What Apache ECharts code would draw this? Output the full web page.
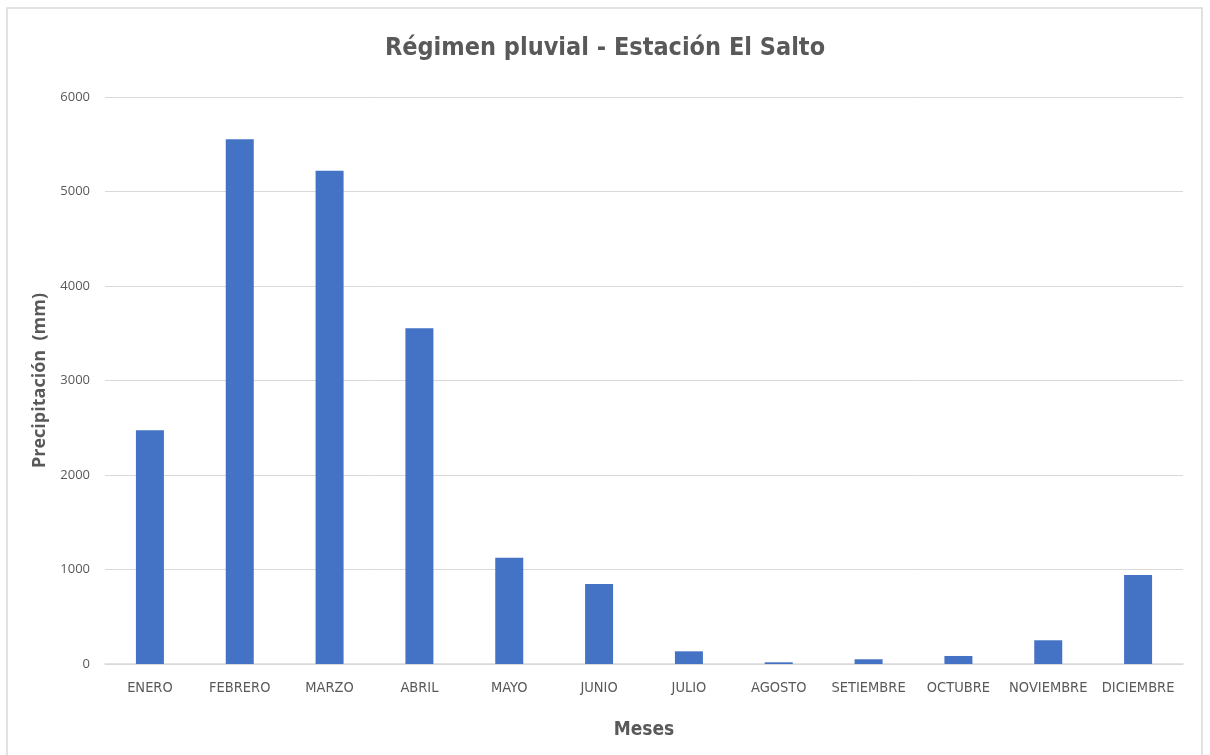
<!DOCTYPE html>
<html>
<head>
<meta charset="utf-8">
<script src="https://cdn.jsdelivr.net/npm/echarts@6/dist/echarts.min.js"></script>
<style>
  body { margin: 0; background: #fff; }
  #chart { width: 1210px; height: 755px; }
</style>
</head>
<body>
<div id="chart"></div>
<script>
// datos
const meses = ['ENERO', 'FEBRERO', 'MARZO', 'ABRIL', 'MAYO', 'JUNIO', 'JULIO',
  'AGOSTO', 'SETIEMBRE', 'OCTUBRE', 'NOVIEMBRE', 'DICIEMBRE'];
const precipitacion = [2473, 5552, 5220, 3552, 1125, 847, 134, 18, 50, 85, 251, 942];
const yMin = 0;
const yMax = 6000;
const yStep = 1000;

const narrow = '"DejaVu Sans Condensed", "Liberation Sans Narrow", sans-serif';

const chart = echarts.init(document.getElementById('chart'));

chart.setOption({
  backgroundColor: '#fff',
  animation: false,
  graphic: [{
    type: 'rect',
    shape: { x: 7, y: 8, width: 1195, height: 770 },
    style: { fill: 'none', stroke: '#d9d9d9', lineWidth: 1.5 },
    silent: true
  }],
  title: {
    text: 'Régimen pluvial - Estación El Salto',
    left: 'center',
    top: 31,
    textStyle: {
      fontFamily: narrow,
      fontSize: 25,
      fontWeight: 'bold',
      color: '#595959'
    }
  },
  grid: { left: 105, right: 27, top: 97, bottom: 91 },
  xAxis: {
    type: 'category',
    data: meses,
    name: 'Meses',
    nameLocation: 'middle',
    nameGap: 57,
    nameTextStyle: {
      fontFamily: narrow,
      fontSize: 19,
      fontWeight: 'bold',
      color: '#595959'
    },
    axisLine: { lineStyle: { color: '#d9d9d9', width: 1.5 } },
    axisTick: { show: false },
    axisLabel: {
      margin: 17,
      interval: 0,
      fontFamily: narrow,
      fontSize: 14.5,
      color: '#595959'
    }
  },
  yAxis: {
    type: 'value',
    min: yMin,
    max: yMax,
    interval: yStep,
    name: 'Precipitación  (mm)',
    nameLocation: 'middle',
    nameGap: 56,
    nameTextStyle: {
      fontFamily: 'Open Sans',
      fontSize: 18,
      fontWeight: 'bold',
      color: '#595959',
      padding: [0, 0, 0, 0]
    },
    axisLine: { show: false },
    axisTick: { show: false },
    axisLabel: {
      margin: 15,
      fontFamily: 'Open Sans',
      fontSize: 13,
      color: '#595959',
      formatter: (v) => String(v)
    },
    splitLine: { lineStyle: { color: '#d9d9d9', width: 1 } }
  },
  series: [{
    type: 'bar',
    data: precipitacion,
    barWidth: 28,
    itemStyle: { color: '#4472c4' }
  }]
});
</script>
</body>
</html>
